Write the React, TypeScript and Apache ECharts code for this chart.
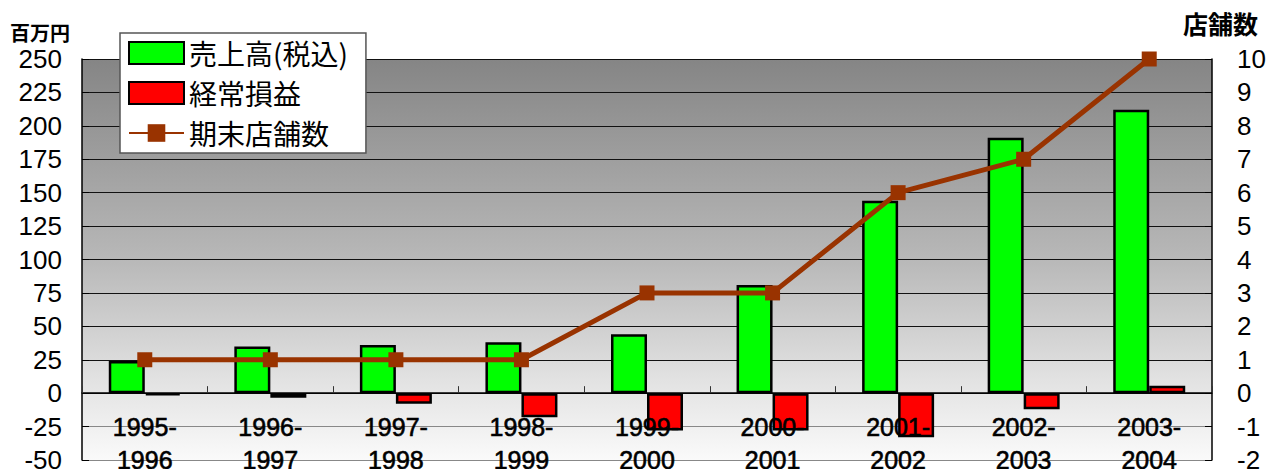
import React, { useEffect, useRef } from "react";
import * as echarts from "echarts";

const categories = ["1995-\n1996", "1996-\n1997", "1997-\n1998", "1998-\n1999", "1999-\n2000", "2000-\n2001", "2001-\n2002", "2002-\n2003", "2003-\n2004"];
const sales = [24, 35, 36, 38, 44, 81, 144, 191, 212];
const profit = [-1.5, -3.5, -8, -18, -28, -28, -33, -12, 5.5];
const stores = [1, 1, 1, 1, 3, 3, 6, 7, 10];
const leftTicks = { min: -50, max: 250, interval: 25 };
const rightTicks = { min: -2, max: 10, interval: 1 };

const LATIN = "'Liberation Sans', Arial, sans-serif";
const CJK = "'Noto Sans CJK JP', sans-serif";

export default function App() {
  const ref = useRef<HTMLDivElement>(null);
  useEffect(() => {
    if (!ref.current) return;
    const chart = echarts.init(ref.current, null, { renderer: "svg" });
    const nLines = (leftTicks.max - leftTicks.min) / leftTicks.interval + 1;
    const splitColors: string[] = [];
    for (let i = 0; i < nLines; i++) {
      const v = leftTicks.min + i * leftTicks.interval;
      splitColors.push(v < 0 ? "#888888" : "#111111");
    }
    chart.setOption({
      animation: false,
      backgroundColor: "#ffffff",
      grid: {
        left: 82,
        right: 55,
        top: 59,
        bottom: 9,
        containLabel: false,
        outerBoundsMode: "none",
        show: true,
        borderWidth: 0,
        backgroundColor: new echarts.graphic.LinearGradient(0, 0, 0, 1, [
          { offset: 0, color: "#858585" },
          { offset: 0.5, color: "#b8b8b8" },
          { offset: 0.8, color: "#e2e2e2" },
          { offset: 1, color: "#fafafa" },
        ]),
      },
      legend: {
        orient: "vertical",
        left: 120,
        top: 33,
        padding: [6, 18, 6, 8],
        itemWidth: 55,
        itemHeight: 22,
        itemGap: 12,
        backgroundColor: "#ffffff",
        borderColor: "#555555",
        borderWidth: 1.5,
        textStyle: { fontSize: 28, color: "#000", fontFamily: CJK },
        data: [
          { name: "売上高(税込)", icon: "rect" },
          { name: "経常損益", icon: "rect" },
          { name: "期末店舗数" },
        ],
      },
      graphic: [
        {
          type: "text",
          left: 10,
          top: 22,
          style: { text: "百万円", font: `bold 20px ${CJK}`, fill: "#000" },
        },
        {
          type: "text",
          left: 1183,
          top: 10,
          style: { text: "店舗数", font: `bold 25px ${CJK}`, fill: "#000" },
        },
      ],
      xAxis: [
        {
          type: "category",
          data: categories,
          axisLine: { onZero: true, lineStyle: { color: "#000", width: 1.5 } },
          axisTick: { show: true, inside: true, length: 7, lineStyle: { color: "#333" } },
          axisLabel: { show: false },
          splitLine: { show: false },
        },
        {
          type: "category",
          data: categories,
          position: "bottom",
          offset: -67,
          z: 10,
          axisLine: { show: false, onZero: false },
          axisTick: { show: false },
          axisLabel: {
            color: "#000",
            fontSize: 25,
            fontFamily: LATIN,
            textBorderColor: "#000",
            textBorderWidth: 0.6,
            lineHeight: 33,
            margin: 17,
            interval: 0,
          },
          splitLine: { show: false },
        },
      ],
      yAxis: [
        {
          type: "value",
          min: leftTicks.min,
          max: leftTicks.max,
          interval: leftTicks.interval,
          axisLine: { show: true, lineStyle: { color: "#000", width: 1.5 } },
          axisTick: { show: true, inside: true, length: 7, lineStyle: { color: "#000" } },
          axisLabel: { color: "#000", fontSize: 26, fontFamily: LATIN, margin: 20 },
          splitLine: { show: true, lineStyle: { color: splitColors, width: 1.2 } },
        },
        {
          type: "value",
          min: rightTicks.min,
          max: rightTicks.max,
          interval: rightTicks.interval,
          axisLine: { show: true, lineStyle: { color: "#000", width: 1.5 } },
          axisTick: { show: true, inside: true, length: 7, lineStyle: { color: "#000" } },
          axisLabel: { color: "#000", fontSize: 26, fontFamily: LATIN, margin: 25 },
          splitLine: { show: false },
        },
      ],
      series: [
        {
          name: "売上高(税込)",
          type: "bar",
          data: sales,
          barWidth: 36,
          barGap: "0%",
          itemStyle: { color: "#00ff00", borderColor: "#000", borderWidth: 2.5 },
        },
        {
          name: "経常損益",
          type: "bar",
          data: profit,
          barWidth: 36,
          barGap: "0%",
          itemStyle: { color: "#ff0000", borderColor: "#000", borderWidth: 2.5 },
        },
        {
          name: "期末店舗数",
          type: "line",
          yAxisIndex: 1,
          data: stores,
          symbol: "rect",
          symbolSize: 15,
          z: 5,
          lineStyle: { color: "#993300", width: 5 },
          itemStyle: { color: "#993300" },
        },
      ],
    });
    return () => chart.dispose();
  }, []);
  return (
    <div
      ref={ref}
      style={{ position: "fixed", left: 0, top: 0, width: 1267, height: 469 }}
    />
  );
}
